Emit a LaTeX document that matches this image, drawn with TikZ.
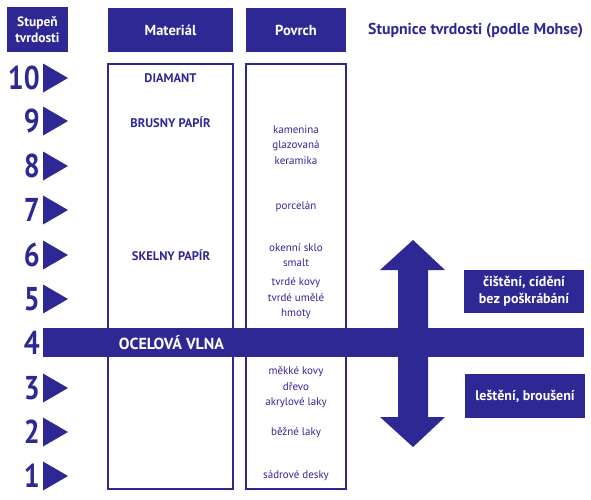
\documentclass[tikz,border=0pt]{standalone}
\usepackage{graphicx}
\usepackage{fontspec}
\setmainfont{PT Sans}
\definecolor{mblue}{RGB}{46,40,148}
\begin{document}
\begin{tikzpicture}[x=1pt,y=-1pt,
  hdr/.style={fill=mblue,text=white,inner sep=0pt,align=center,font=\fontsize{14.5}{16}\selectfont\bfseries},
  colbox/.style={draw=mblue,line width=1.4pt,inner sep=0pt,minimum width=125pt},
  num/.style={text=mblue,anchor=east,inner sep=0pt,font=\fontsize{33}{33}\selectfont\bfseries},
  mat/.style={text=mblue,inner sep=0pt,font=\fontsize{12.5}{14}\selectfont\bfseries},
  pov/.style={text=mblue,inner sep=0pt,align=center,font=\fontsize{11}{15.5}\selectfont},
  side/.style={fill=mblue,text=white,inner sep=0pt,align=center,minimum width=120pt,font=\fontsize{14}{17}\selectfont\bfseries}]
\useasboundingbox (0,0) rectangle (591,499);
% headers
\node[hdr,minimum width=61pt,minimum height=45pt,font=\fontsize{13.5}{15.5}\selectfont\bfseries] (hs) at (37.5,29.5) {Stupeň\\tvrdosti};
\node[hdr,minimum width=125pt,minimum height=44pt] (hm) at (170.5,30) {Materiál};
\node[hdr,minimum width=100pt,minimum height=44pt] (hp) at (296,30) {Povrch};
\node[text=mblue,inner sep=0pt,anchor=west,font=\fontsize{15.8}{17}\selectfont\bfseries] (title) at (368,31) {Stupnice tvrdosti (podle Mohse)};
% columns
\node[colbox,minimum width=125pt,minimum height=425pt] (cm) at (170.5,276.5) {};
\node[colbox,minimum width=100pt,minimum height=425pt] (cp) at (296,276.5) {};
% levels
\foreach \k/\yy in {10/78,9/121,8/166,7/210,6/255,5/299,4/343,3/388,2/432,1/476}{
  \node[num] (n\k) at (40,\yy) {\scalebox{0.85}[1]{\k}};
}
\foreach \k/\yy in {10/78,9/121,8/166,7/210,6/255,5/299,3/388,2/432,1/476}{
  \fill[mblue] (43,\yy-14.5) -- (68,\yy) -- (43,\yy+14.5) -- cycle;
}
% band
\fill[mblue] (43,328) rectangle (584,357);
\node[text=white,inner sep=0pt,font=\fontsize{16}{18}\selectfont\bfseries] (ov) at (171.5,343) {OCELOVÁ VLNA};
% material labels
\node[mat] (m10) at (170.5,78) {DIAMANT};
\node[mat] (m9) at (170.5,122) {BRUSNY PAPÍR};
\node[mat] (m6) at (171,255) {SKELNY PAPÍR};
% surface labels
\node[pov] (p9) at (296,145) {kamenina\\glazovaná\\keramika};
\node[pov] (p7) at (296,207) {porcelán};
\node[pov] (p6) at (296,255) {okenní sklo\\smalt};
\node[pov] (p5) at (296,298.5) {tvrdé kovy\\tvrdé umělé\\hmoty};
\node[pov] (p3) at (296,387.5) {měkké kovy\\dřevo\\akrylové laky};
\node[pov] (p2) at (296,433) {běžné laky};
\node[pov] (p1) at (296,476) {sádrové desky};
% double arrow
\fill[mblue] (413,240) -- (445,270) -- (428,270) -- (428,417) -- (445,417) -- (413,447)
  -- (380,417) -- (398,417) -- (398,270) -- (380,270) -- cycle;
% side boxes
\node[side,minimum height=43pt] (s1) at (524,291.5) {čištění, cídění\\bez poškrábání};
\node[side,minimum height=44pt] (s2) at (525,396) {leštění, broušení};
\end{tikzpicture}
\end{document}
